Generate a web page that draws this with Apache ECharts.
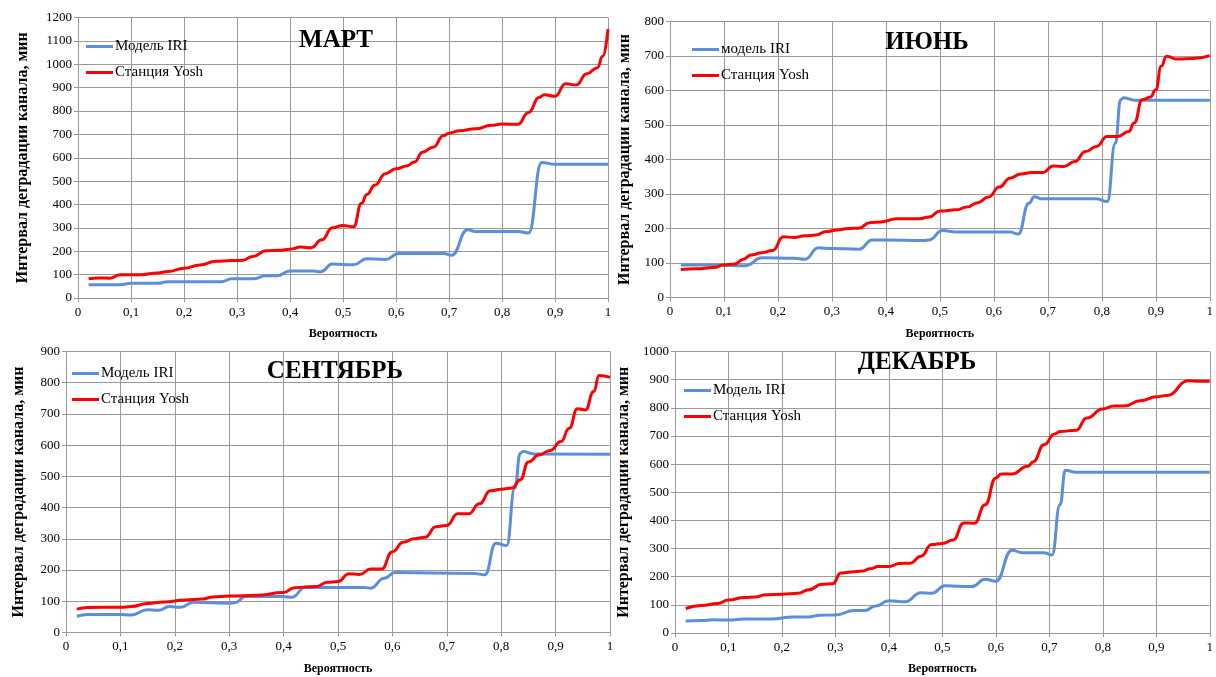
<!DOCTYPE html>
<html>
<head>
<meta charset="utf-8">
<script src="https://cdn.jsdelivr.net/npm/echarts@6/dist/echarts.min.js"></script>
<style>
html,body{margin:0;padding:0;background:#fff;}
#c{width:1216px;height:677px;}
</style>
</head>
<body>
<div id="c"></div>
<script>
// ---- МАРТ ----
const marIriX = [0.02,0.08,0.10,0.15,0.17,0.27,0.29,0.33,0.355,0.375,0.40,0.445,0.458,0.48,0.52,0.545,0.58,0.605,0.69,0.705,0.735,0.75,0.83,0.85,0.875,0.90,1.0];
const marIriY = [57,57,63,63,70,70,82,82,95,95,115,115,112,145,142,168,165,190,190,183,292,285,285,278,580,572,572];
const marYoshX = [0.02,0.04,0.06,0.08,0.10,0.12,0.15,0.17,0.20,0.23,0.26,0.29,0.31,0.33,0.355,0.38,0.40,0.42,0.44,0.46,0.48,0.50,0.52,0.535,0.545,0.56,0.58,0.60,0.62,0.635,0.65,0.67,0.69,0.70,0.72,0.75,0.78,0.80,0.83,0.85,0.87,0.88,0.90,0.92,0.94,0.96,0.98,0.99,1.0];
const marYoshY = [82,86,85,99,100,100,107,113,127,141,157,160,161,178,202,204,209,218,215,249,300,310,305,405,443,482,532,553,565,582,624,645,695,705,716,724,739,744,743,794,858,870,863,917,911,959,985,1034,1150];

// ---- ИЮНЬ ----
const junIriX = [0.02,0.10,0.13,0.14,0.17,0.23,0.25,0.275,0.30,0.35,0.375,0.40,0.47,0.48,0.505,0.53,0.63,0.645,0.665,0.675,0.69,0.79,0.81,0.825,0.835,0.84,0.86,1.0];
const junIriY = [94,94,92,92,115,114,111,144,142,140,167,167,165,167,194,190,190,184,273,292,286,286,278,447,573,579,572,572];
const junYoshX = [0.02,0.05,0.08,0.10,0.12,0.135,0.15,0.17,0.19,0.21,0.23,0.25,0.27,0.29,0.31,0.33,0.35,0.37,0.39,0.42,0.46,0.48,0.50,0.53,0.55,0.57,0.59,0.61,0.63,0.65,0.67,0.69,0.71,0.73,0.75,0.77,0.79,0.81,0.83,0.85,0.86,0.875,0.89,0.90,0.91,0.92,0.94,0.97,1.0];
const junYoshY = [81,83,87,94,97,110,123,130,136,176,174,179,181,191,196,200,201,217,219,228,228,233,251,254,262,275,291,320,346,358,362,362,381,380,394,423,438,467,467,481,506,573,581,602,670,699,691,693,701];

// ---- СЕНТЯБРЬ ----
const sepIriX = [0.02,0.04,0.10,0.12,0.15,0.17,0.19,0.21,0.235,0.30,0.31,0.33,0.40,0.415,0.44,0.55,0.56,0.585,0.605,0.75,0.77,0.79,0.81,0.825,0.835,0.84,0.86,1.0];
const sepIriY = [52,58,58,56,73,71,83,81,97,94,95,115,115,113,145,144,142,174,192,189,185,286,279,462,574,580,572,571];
const sepYoshX = [0.02,0.04,0.10,0.12,0.15,0.18,0.22,0.25,0.27,0.30,0.35,0.40,0.42,0.44,0.46,0.48,0.50,0.52,0.54,0.56,0.58,0.60,0.62,0.64,0.66,0.68,0.70,0.72,0.74,0.76,0.78,0.80,0.82,0.835,0.85,0.87,0.89,0.91,0.925,0.94,0.955,0.97,0.98,1.0];
const sepYoshY = [75,80,81,83,93,98,104,107,114,117,119,128,143,146,147,161,163,188,186,203,203,259,289,300,305,339,343,380,380,412,454,459,463,489,546,569,583,612,654,717,713,772,823,817];

// ---- ДЕКАБРЬ ----
const decIriX = [0.02,0.05,0.07,0.10,0.13,0.18,0.22,0.25,0.27,0.30,0.335,0.355,0.375,0.40,0.43,0.46,0.48,0.505,0.555,0.58,0.60,0.63,0.65,0.69,0.705,0.72,0.73,0.75,1.0];
const decIriY = [43,44,47,46,50,50,57,57,63,64,80,80,96,115,111,143,141,168,165,191,184,294,285,285,277,456,578,571,571];
const decYoshX = [0.02,0.05,0.08,0.10,0.13,0.15,0.17,0.20,0.23,0.25,0.275,0.295,0.31,0.33,0.35,0.365,0.38,0.40,0.42,0.44,0.46,0.48,0.50,0.52,0.54,0.56,0.58,0.60,0.61,0.63,0.66,0.67,0.69,0.71,0.72,0.75,0.77,0.80,0.82,0.84,0.87,0.90,0.92,0.96,0.98,1.0];
const decYoshY = [87,98,105,117,126,128,136,138,141,154,173,175,213,217,220,228,236,236,247,248,273,314,318,330,391,390,456,551,565,565,592,608,669,707,716,720,764,796,806,806,825,839,844,896,894,894];

const yMax = [1200, 800, 900, 1000];
const titles = ['МАРТ', 'ИЮНЬ', 'СЕНТЯБРЬ', 'ДЕКАБРЬ'];
const iriNames = ['Модель IRI', 'модель IRI', 'Модель IRI', 'Модель IRI'];
const yoshName = 'Станция Yosh';
const xTitle = 'Вероятность';
const yTitle = 'Интервал деградации канала, мин';

const pairs = (xs, ys) => xs.map((x, i) => [x, ys[i]]);
const iriData = [pairs(marIriX, marIriY), pairs(junIriX, junIriY), pairs(sepIriX, sepIriY), pairs(decIriX, decIriY)];
const yoshData = [pairs(marYoshX, marYoshY), pairs(junYoshX, junYoshY), pairs(sepYoshX, sepYoshY), pairs(decYoshX, decYoshY)];

const grids = [
  {left: 78, top: 17.5, width: 530, height: 280.5},
  {left: 670, top: 21.5, width: 543, height: 276},
  {left: 66, top: 351.5, width: 544, height: 281},
  {left: 675, top: 351.5, width: 536, height: 281.5}
];
const yNameGap = [47, 37, 39, 43];
const titlePos = [[331, 23], [922, 25], [330, 354], [912, 345]];
const legendPos = [[86, 39], [692, 42], [72, 366], [684, 383]];

const serif = '"Liberation Serif", "Times New Roman", serif';
const gridColor = '#9a9a9a';

const xAxes = grids.map((g, i) => ({
  type: 'value', gridIndex: i, min: 0, max: 1, interval: 0.1,
  name: xTitle, nameLocation: 'middle', nameGap: 30,
  nameTextStyle: {fontFamily: serif, fontWeight: 'bold', fontSize: 12, color: '#000'},
  axisLine: {show: true, lineStyle: {color: gridColor}},
  axisTick: {show: true, length: 4, lineStyle: {color: gridColor}},
  splitLine: {show: true, lineStyle: {color: gridColor, width: 1}},
  axisLabel: {fontFamily: serif, fontSize: 13, color: '#000', margin: 8,
    formatter: v => (Math.round(v * 10) / 10).toString().replace('.', ',')}
}));
const yAxes = grids.map((g, i) => ({
  type: 'value', gridIndex: i, min: 0, max: yMax[i], interval: 100,
  name: yTitle, nameLocation: 'middle', nameGap: yNameGap[i],
  nameTextStyle: {fontFamily: serif, fontWeight: 'bold', fontSize: 16, color: '#000'},
  axisLine: {show: true, lineStyle: {color: gridColor}},
  axisTick: {show: true, length: 4, lineStyle: {color: gridColor}},
  splitLine: {show: true, lineStyle: {color: gridColor, width: 1}},
  axisLabel: {fontFamily: serif, fontSize: 13, color: '#000', margin: 6,
    formatter: v => String(Math.round(v))}
}));

const series = [];
grids.forEach((g, i) => {
  series.push({
    type: 'line', name: iriNames[i], xAxisIndex: i, yAxisIndex: i,
    data: iriData[i], smooth: 0.5, smoothMonotone: 'x', showSymbol: false,
    lineStyle: {color: '#5b8fdc', width: 3}, itemStyle: {color: '#5b8fdc'}, animation: false
  });
  series.push({
    type: 'line', name: yoshName, xAxisIndex: i, yAxisIndex: i,
    data: yoshData[i], smooth: 0.5, smoothMonotone: 'x', showSymbol: false,
    lineStyle: {color: '#ff0000', width: 3}, itemStyle: {color: '#ff0000'}, animation: false
  });
});

const legends = grids.map((g, i) => ({
  data: [iriNames[i], yoshName], orient: 'vertical',
  left: legendPos[i][0], top: legendPos[i][1], itemGap: 11, padding: 0,
  icon: 'rect', itemWidth: 27, itemHeight: 3,
  textStyle: {fontFamily: serif, fontSize: 15, color: '#000', padding: [0, 0, 0, -3]},
  selectedMode: false
}));

const titleComps = titles.map((t, i) => ({
  text: t, left: titlePos[i][0], top: titlePos[i][1], textAlign: 'center',
  textStyle: {fontFamily: serif, fontWeight: 'bold', fontSize: 25, color: '#000'}
}));

const chart = echarts.init(document.getElementById('c'), null, {renderer: 'canvas'});
chart.setOption({
  animation: false,
  backgroundColor: '#fff',
  title: titleComps,
  legend: legends,
  grid: grids,
  xAxis: xAxes,
  yAxis: yAxes,
  series: series
});
</script>
</body>
</html>
